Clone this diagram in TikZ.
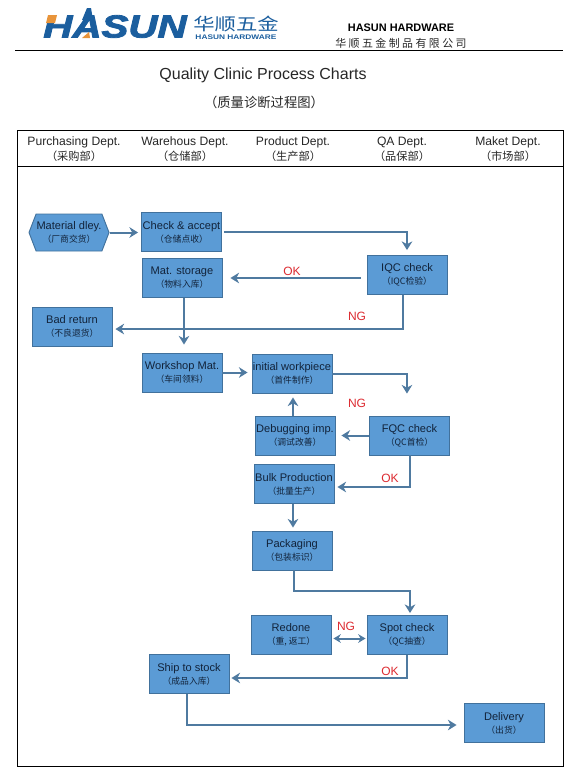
\documentclass[tikz,border=0pt]{standalone}
\usepackage{fontspec}
\setmainfont{Liberation Sans}
\newfontfamily\zhf{Noto Sans CJK SC}
\newfontfamily\logof[BoldItalicFeatures={FakeBold=2.5}]{Liberation Sans}
\usetikzlibrary{arrows.meta,shapes.symbols,calc}
\definecolor{boxfill}{HTML}{5B9BD5}
\definecolor{boxline}{HTML}{41719C}
\definecolor{flowc}{HTML}{4F7AA0}
\definecolor{inkc}{HTML}{12233A}
\definecolor{redc}{HTML}{DC2A30}
\definecolor{logob}{HTML}{1B5E9E}
\definecolor{logoo}{HTML}{E8943A}
\newcommand{\bxt}[2]{#1\\{\zhf\fontsize{6.6pt}{9.75pt}\selectfont （#2）}}
\newcommand{\hdt}[2]{#1\\{\zhf\fontsize{8.4pt}{11.25pt}\selectfont （#2）}}
\tikzset{
  box/.style={draw=boxline,line width=0.7pt,fill=boxfill,minimum width=60pt,minimum height=29.25pt,inner sep=0pt,align=center,text=inkc,font=\fontsize{8.3pt}{9.75pt}\selectfont},
  hexbox/.style={box,shape=signal,signal to=east and west,signal pointer angle=138},
  flow/.style={draw=flowc,line width=1.5pt,-{Stealth[length=6.5pt,width=8pt]}},
  twoway/.style={draw=flowc,line width=1.5pt,{Stealth[length=5.5pt,width=6.5pt]}-{Stealth[length=5.5pt,width=6.5pt]}},
  mark label/.style={text=redc,font=\fontsize{9pt}{11pt}\selectfont,inner sep=0pt},
  head/.style={align=center,inner sep=0pt,text=black!85,font=\fontsize{9.1pt}{11.25pt}\selectfont},
  rulez/.style={draw=black,line width=0.75pt}
}
\begin{document}
\begin{tikzpicture}[x=0.75pt,y=-0.75pt]
\useasboundingbox (0,0) rectangle (578,771);
% logo
\node[inner sep=0pt,text=logob,xscale=1.26,font=\fontsize{24pt}{26pt}\selectfont\logof\bfseries\itshape] (logo) at (115,26.5) {HASUN};
\fill[logob] (82,20) -- (87,8) -- (91,8) -- (93,20) -- cycle;
\fill[logoo] (48,15) -- (57,15) -- (55,23) -- (46,23) -- cycle;
\fill[logoo] (89,32) -- (90,38) -- (82,38) -- cycle;
\node[inner sep=0pt,text=logob,xscale=1.25,font=\zhf\fontsize{12.8pt}{14pt}\selectfont] (logozh) at (236,24) {华顺五金};
\node[inner sep=0pt,text=logob,xscale=1.25,font=\fontsize{5pt}{6pt}\selectfont\bfseries] (logoen) at (236,37) {HASUN HARDWARE};
\node[inner sep=0pt,font=\fontsize{8.2pt}{10pt}\selectfont\bfseries] (co) at (401,28) {HASUN HARDWARE};
\node[inner sep=0pt,font=\zhf\fontsize{8.2pt}{9pt}\selectfont,text=black!85] (cozh) at (401,43) {华 顺 五 金 制 品 有 限 公 司};
\coordinate (ruleL) at (15,50.7);
\coordinate (ruleR) at (563,50.7);
\draw[rulez] (ruleL) -- (ruleR);
\node[inner sep=0pt,font=\fontsize{12pt}{14pt}\selectfont,text=black!85] (title) at (263,75.5) {Quality Clinic Process Charts};
\node[inner sep=0pt,font=\zhf\fontsize{10pt}{12pt}\selectfont,text=black!85] (titlezh) at (264,102) {（质量诊断过程图）};
% table frame
\coordinate (tl) at (17,130);
\coordinate (br) at (563,766.5);
\coordinate (hl) at (17,166);
\coordinate (hr) at (563,166);
\draw[rulez] (tl) rectangle (br);
\draw[rulez] (hl) -- (hr);
\node[head] (h1) at (74,149) {\hdt{Purchasing Dept.}{采购部}};
\node[head] (h2) at (185,149) {\hdt{Warehous Dept.}{仓储部}};
\node[head] (h3) at (293,149) {\hdt{Product Dept.}{生产部}};
\node[head] (h4) at (402,149) {\hdt{QA Dept.}{品保部}};
\node[head] (h5) at (508,149) {\hdt{Maket Dept.}{市场部}};
% boxes
\node[hexbox,minimum width=60pt,minimum height=27.75pt] (hex) at (69,232.5) {\bxt{Material dley.}{厂商交货}};
\node[box] (check) at (181.5,232) {\bxt{Check \& accept}{仓储点收}};
\node[box] (storage) at (182,278) {\bxt{Mat. storage}{物料入库}};
\node[box] (iqc) at (407,275) {\bxt{IQC check}{IQC检验}};
\node[box] (bad) at (72,326.5) {\bxt{Bad return}{不良退货}};
\node[box] (workshop) at (182,372.5) {\bxt{Workshop Mat.}{车间领料}};
\node[box] (initial) at (292,373.5) {\bxt{initial workpiece}{首件制作}};
\node[box] (debug) at (295,435.5) {\bxt{Debugging imp.}{调试改善}};
\node[box] (fqc) at (409.5,435.5) {\bxt{FQC check}{QC首检}};
\node[box] (bulk) at (294,484) {\bxt{Bulk Production}{批量生产}};
\node[box] (pack) at (292,550.5) {\bxt{Packaging}{包装标识}};
\node[box] (redone) at (291,634.5) {\bxt{Redone}{重, 返工}};
\node[box] (spot) at (407,635) {\bxt{Spot check}{QC抽查}};
\node[box] (ship) at (189,674) {\bxt{Ship to stock}{成品入库}};
\node[box] (delivery) at (504,723) {\bxt{Delivery}{出货}};
% connectors
\draw[flow,shorten >=2.25pt] (hex.east) -- (hex.east -| check.west);
\draw[flow,shorten <=1.5pt,shorten >=3.75pt] (check.east) -| (iqc.north);
\draw[flow,shorten <=4.5pt,shorten >=6pt] (iqc.west |- storage.east) -- (storage.east);
\draw[flow,shorten >=2.25pt] ([xshift=-3pt]iqc.south) |- ([yshift=-1.9pt]bad.east);
\draw[flow,shorten >=6pt] ([xshift=1.5pt]storage.south) -- ([xshift=1.5pt]workshop.north);
\draw[flow,shorten >=3pt] (workshop.east) -- (workshop.east -| initial.west);
\draw[flow,shorten >=16.5pt] (initial.east) -| ([xshift=-1.9pt]fqc.north);
\draw[flow,shorten >=3pt] ([xshift=-1.5pt]debug.north) -- ([xshift=-1.5pt]debug.north |- initial.south);
\draw[flow,shorten >=4.5pt] (fqc.west) -- (debug.east);
\draw[flow,shorten >=2.25pt] (fqc.south) |- ([yshift=-2.25pt]bulk.east);
\draw[flow,shorten >=2.25pt] ([xshift=-0.75pt]bulk.south) -- ([xshift=-0.75pt]bulk.south |- pack.north);
\draw[flow,shorten >=1.5pt] ([xshift=1.5pt]pack.south) -- ++(0,-15.75pt) -| ([xshift=2.25pt]spot.north);
\draw[twoway,shorten <=1.5pt,shorten >=0.75pt] ([yshift=-3pt]redone.east) -- ([yshift=-3pt]redone.east -| spot.west);
\draw[flow,shorten >=1.5pt] (spot.south) |- ([yshift=-3pt]ship.east);
\draw[flow,shorten >=5.25pt] ([xshift=-1.5pt]ship.south) |- ([yshift=-1.5pt]delivery.west);
% labels
\node[mark label] (l1) at (292,271) {OK};
\node[mark label] (l2) at (357,316) {NG};
\node[mark label] (l3) at (357,403.5) {NG};
\node[mark label] (l4) at (390,478) {OK};
\node[mark label] (l5) at (346,626) {NG};
\node[mark label] (l6) at (390,671) {OK};
\end{tikzpicture}
\end{document}
